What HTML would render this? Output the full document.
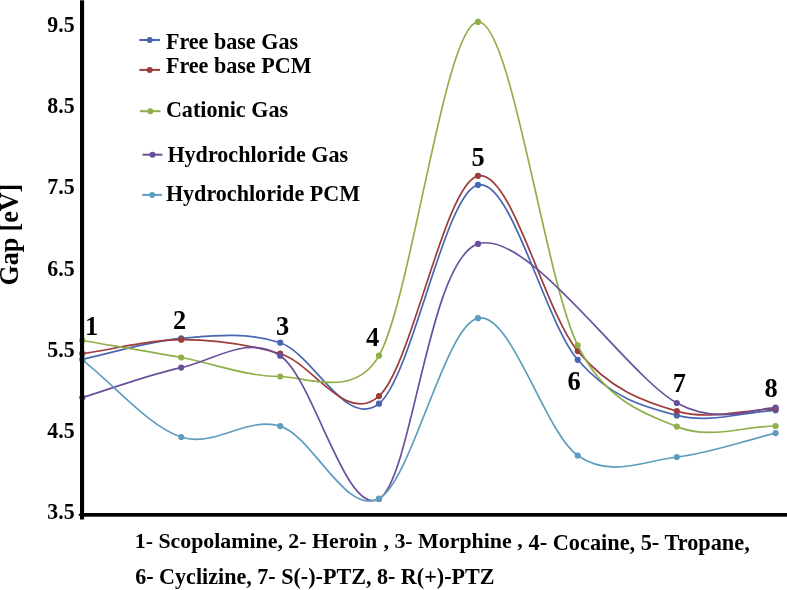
<!DOCTYPE html>
<html><head><meta charset="utf-8"><title>Gap chart</title>
<style>
html,body{margin:0;padding:0;background:#fff;}
svg{display:block;}
text{font-family:"Liberation Serif",serif;font-weight:bold;fill:#000;}
</style></head><body>
<svg width="787" height="590" viewBox="0 0 787 590">
<rect width="787" height="590" fill="#fff"/>

<path d="M82.30 359.30 C115.27 352.33 148.22 341.17 181.20 338.40 C214.18 335.63 247.23 331.82 280.20 342.70 C313.17 353.58 346.03 430.00 379.00 403.70 C411.97 377.40 444.88 192.22 478.00 184.90 C511.12 177.58 544.57 321.38 577.70 359.80 C610.83 398.22 643.82 406.98 676.80 415.40 C709.78 423.82 742.67 412.00 775.60 410.30" fill="none" stroke="#4966b1" stroke-width="1.7" stroke-linecap="round"/>
<circle cx="82.30" cy="359.30" r="3.1" fill="#4966b1"/>
<circle cx="181.20" cy="338.40" r="3.1" fill="#4966b1"/>
<circle cx="280.20" cy="342.70" r="3.1" fill="#4966b1"/>
<circle cx="379.00" cy="403.70" r="3.1" fill="#4966b1"/>
<circle cx="478.00" cy="184.90" r="3.1" fill="#4966b1"/>
<circle cx="577.70" cy="359.80" r="3.1" fill="#4966b1"/>
<circle cx="676.80" cy="415.40" r="3.1" fill="#4966b1"/>
<circle cx="775.60" cy="410.30" r="3.1" fill="#4966b1"/>
<path d="M82.30 353.70 C115.27 349.03 148.22 339.70 181.20 339.70 C214.18 339.70 247.23 344.30 280.20 353.70 C313.17 363.10 346.03 425.75 379.00 396.10 C411.97 366.45 444.88 183.30 478.00 175.80 C511.12 168.30 544.57 311.88 577.70 351.10 C610.83 390.32 643.82 401.48 676.80 411.10 C709.78 420.72 742.67 409.57 775.60 408.80" fill="none" stroke="#9e3c3b" stroke-width="1.7" stroke-linecap="round"/>
<circle cx="82.30" cy="353.70" r="3.1" fill="#9e3c3b"/>
<circle cx="181.20" cy="339.70" r="3.1" fill="#9e3c3b"/>
<circle cx="280.20" cy="353.70" r="3.1" fill="#9e3c3b"/>
<circle cx="379.00" cy="396.10" r="3.1" fill="#9e3c3b"/>
<circle cx="478.00" cy="175.80" r="3.1" fill="#9e3c3b"/>
<circle cx="577.70" cy="351.10" r="3.1" fill="#9e3c3b"/>
<circle cx="676.80" cy="411.10" r="3.1" fill="#9e3c3b"/>
<circle cx="775.60" cy="408.80" r="3.1" fill="#9e3c3b"/>
<path d="M82.30 340.50 C115.27 346.17 148.22 351.50 181.20 357.50 C214.18 363.50 247.23 376.80 280.20 376.50 C304.79 376.28 354.41 399.79 379.00 355.70 C411.97 296.60 444.88 23.63 478.00 21.90 C511.12 20.17 544.57 277.85 577.70 345.30 C605.96 402.82 648.67 415.13 676.80 426.60 C709.78 440.05 742.67 426.20 775.60 426.00" fill="none" stroke="#8fb04a" stroke-width="1.7" stroke-linecap="round"/>
<circle cx="82.30" cy="340.50" r="3.1" fill="#8fb04a"/>
<circle cx="181.20" cy="357.50" r="3.1" fill="#8fb04a"/>
<circle cx="280.20" cy="376.50" r="3.1" fill="#8fb04a"/>
<circle cx="379.00" cy="355.70" r="3.1" fill="#8fb04a"/>
<circle cx="478.00" cy="21.90" r="3.1" fill="#8fb04a"/>
<circle cx="577.70" cy="345.30" r="3.1" fill="#8fb04a"/>
<circle cx="676.80" cy="426.60" r="3.1" fill="#8fb04a"/>
<circle cx="775.60" cy="426.00" r="3.1" fill="#8fb04a"/>
<path d="M82.30 397.60 C115.27 387.60 148.22 374.58 181.20 367.60 C214.18 360.62 247.23 333.80 280.20 355.70 C313.17 377.60 346.03 517.63 379.00 499.00 C411.97 480.37 428.37 259.90 478.00 243.90 C527.63 227.90 627.20 375.73 676.80 403.00 C720.13 426.82 761.21 406.84 775.60 407.50" fill="none" stroke="#6a4f9b" stroke-width="1.7" stroke-linecap="round"/>
<circle cx="82.30" cy="397.60" r="3.1" fill="#6a4f9b"/>
<circle cx="181.20" cy="367.60" r="3.1" fill="#6a4f9b"/>
<circle cx="280.20" cy="355.70" r="3.1" fill="#6a4f9b"/>
<circle cx="379.00" cy="499.00" r="3.1" fill="#6a4f9b"/>
<circle cx="478.00" cy="243.90" r="3.1" fill="#6a4f9b"/>
<circle cx="676.80" cy="403.00" r="3.1" fill="#6a4f9b"/>
<circle cx="775.60" cy="407.50" r="3.1" fill="#6a4f9b"/>
<path d="M82.30 359.80 C115.27 385.53 148.22 425.95 181.20 437.00 C214.18 448.05 247.23 415.83 280.20 426.10 C313.17 436.37 346.03 516.58 379.00 498.60 C411.97 480.62 444.88 325.38 478.00 318.20 C511.12 311.02 544.57 432.37 577.70 455.50 C610.83 478.63 643.82 460.73 676.80 457.00 C709.78 453.27 742.67 441.07 775.60 433.10" fill="none" stroke="#5f9dc0" stroke-width="1.7" stroke-linecap="round"/>
<circle cx="82.30" cy="359.80" r="3.1" fill="#5f9dc0"/>
<circle cx="181.20" cy="437.00" r="3.1" fill="#5f9dc0"/>
<circle cx="280.20" cy="426.10" r="3.1" fill="#5f9dc0"/>
<circle cx="379.00" cy="498.60" r="3.1" fill="#5f9dc0"/>
<circle cx="478.00" cy="318.20" r="3.1" fill="#5f9dc0"/>
<circle cx="577.70" cy="455.50" r="3.1" fill="#5f9dc0"/>
<circle cx="676.80" cy="457.00" r="3.1" fill="#5f9dc0"/>
<circle cx="775.60" cy="433.10" r="3.1" fill="#5f9dc0"/>
<rect x="80" y="0.3" width="4.1" height="519.2" fill="#000"/>
<rect x="80" y="513" width="707" height="3.7" fill="#000"/>
<rect x="78.7" y="513.8" width="2" height="2" fill="#000"/>
<text transform="translate(74.6,32.0) scale(0.95,1)" font-size="23" text-anchor="end">9.5</text>
<text transform="translate(74.6,113.2) scale(0.95,1)" font-size="23" text-anchor="end">8.5</text>
<text transform="translate(74.6,194.3) scale(0.95,1)" font-size="23" text-anchor="end">7.5</text>
<text transform="translate(74.6,275.5) scale(0.95,1)" font-size="23" text-anchor="end">6.5</text>
<text transform="translate(74.6,356.6) scale(0.95,1)" font-size="23" text-anchor="end">5.5</text>
<text transform="translate(74.6,437.8) scale(0.95,1)" font-size="23" text-anchor="end">4.5</text>
<text transform="translate(74.6,518.9) scale(0.95,1)" font-size="23" text-anchor="end">3.5</text>
<text transform="translate(18.4,285.6) rotate(-90) scale(0.929,1)" font-size="28">Gap [eV]</text>
<line x1="139.3" y1="40.0" x2="160.0" y2="40.0" stroke="#4966b1" stroke-width="2"/>
<circle cx="149.7" cy="40.0" r="3" fill="#4966b1"/>
<text x="165.9" y="48.8" font-size="22.1">Free base Gas</text>
<line x1="139.3" y1="69.9" x2="160.0" y2="69.9" stroke="#9e3c3b" stroke-width="2"/>
<circle cx="149.7" cy="69.9" r="3" fill="#9e3c3b"/>
<text x="165.9" y="72.9" font-size="22.1">Free base PCM</text>
<line x1="139.9" y1="111.2" x2="160.5" y2="111.2" stroke="#8fb04a" stroke-width="2"/>
<circle cx="150.3" cy="111.2" r="3" fill="#8fb04a"/>
<text x="165.9" y="117.0" font-size="22.1">Cationic Gas</text>
<line x1="142.6" y1="154.7" x2="162.4" y2="154.7" stroke="#6a4f9b" stroke-width="2"/>
<circle cx="152.5" cy="154.7" r="3" fill="#6a4f9b"/>
<text x="167.4" y="161.5" font-size="22.1">Hydrochloride Gas</text>
<line x1="142.2" y1="194.9" x2="162.2" y2="194.9" stroke="#5f9dc0" stroke-width="2"/>
<circle cx="152.2" cy="194.9" r="3" fill="#5f9dc0"/>
<text x="165.9" y="201.4" font-size="22.1">Hydrochloride PCM</text>
<text x="85.1" y="335.4" font-size="26.4">1</text>
<text x="173.1" y="329.1" font-size="26.4">2</text>
<text x="276.1" y="335.4" font-size="26.4">3</text>
<text x="366.1" y="346.3" font-size="26.4">4</text>
<text x="471.6" y="165.7" font-size="26.4">5</text>
<text x="567.4" y="390.1" font-size="26.4">6</text>
<text x="672.7" y="392.1" font-size="26.4">7</text>
<text x="764.6" y="396.9" font-size="26.4">8</text>
<text x="134.8" y="547.9" font-size="21.85">1- Scopolamine, 2- Heroin</text>
<text x="383.6" y="547.6" font-size="22">,</text>
<text x="394.4" y="547.7" font-size="21.9">3- Morphine</text>
<text x="517.3" y="546.6" font-size="22">,</text>
<text x="528.6" y="550.2" font-size="22.3">4- Cocaine, 5- Tropane,</text>
<text x="135.2" y="584.3" font-size="22.1">6- Cyclizine, 7- S(-)-PTZ, 8- R(+)-PTZ</text>
</svg></body></html>
